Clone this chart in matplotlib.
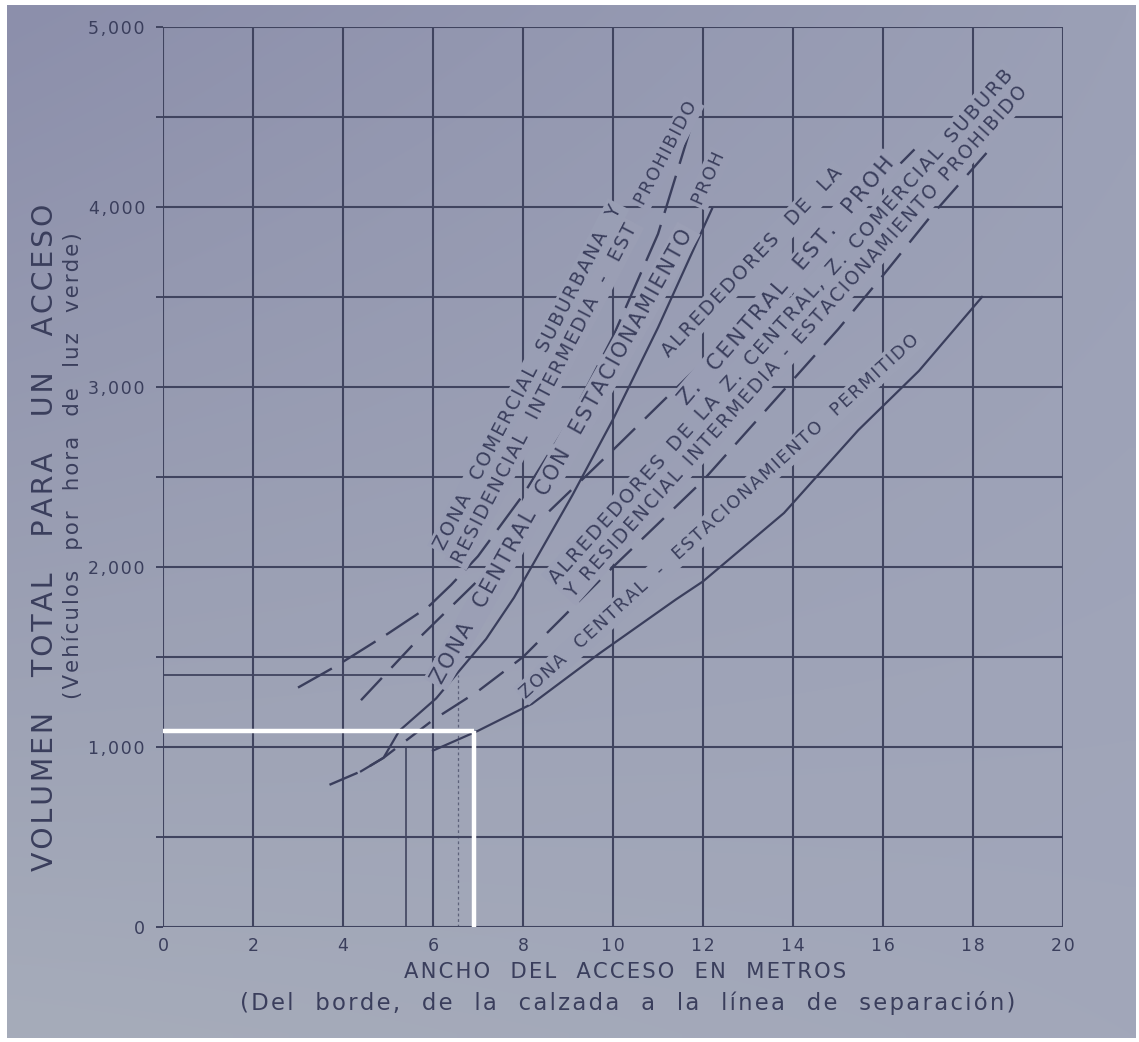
import numpy as np
import matplotlib
matplotlib.use("Agg")
import matplotlib.pyplot as plt

plt.rcParams['font.family'] = ['DejaVu Sans']
plt.rcParams['lines.scale_dashes'] = False

# ---- axis scales -------------------------------------------------------
x_ticks = [0, 2, 4, 6, 8, 10, 12, 14, 16, 18, 20]
y_grid = [0, 500, 1000, 1500, 2000, 2500, 3000, 3500, 4000, 4500, 5000]
y_ticks = [0, 1000, 2000, 3000, 4000, 5000]
y_tick_labels = ["0", "1,000", "2,000", "3,000", "4,000", "5,000"]

# ---- curves: access width (m) vs. vehicles per hour of green ----------
com_sub_x = [3.0, 3.85, 5.0, 5.9, 6.4, 7.0, 8.0, 9.0, 10.0, 11.0, 11.8]
com_sub_y = [1330, 1450, 1630, 1780, 1900, 2060, 2400, 2800, 3280, 3850, 4500]

cen_prohib_x = [4.4, 4.9, 5.25, 6.07, 7.18, 7.8, 9.1, 10.0, 11.0, 12.2]
cen_prohib_y = [865, 940, 1090, 1270, 1600, 1830, 2400, 2820, 3330, 3990]

alr_cen_x = [4.4, 5.75, 8.0, 10.0, 12.0, 14.0, 16.7]
alr_cen_y = [1260, 1620, 2170, 2650, 3140, 3640, 4320]

alr_res_x = [3.7, 4.4, 4.9, 6.0, 7.0, 8.0, 9.0, 10.0, 11.0, 12.0, 13.0, 14.0,
             15.0, 16.0, 17.0, 18.3]
alr_res_y = [790, 865, 940, 1150, 1310, 1500, 1750, 2000, 2240, 2480, 2760,
             3040, 3320, 3620, 3930, 4300]

cen_perm_x = [6.0, 7.0, 8.2, 9.7, 11.4, 12.0, 13.8, 15.45, 16.8, 18.2]
cen_perm_y = [980, 1090, 1240, 1520, 1820, 1920, 2300, 2760, 3090, 3500]

# reading drawn on the chart for a 6.9 m access
read_x = 6.9
read_y = 1090

# construction lines left on the sheet
guide_h_y = 1400
guide_h_x_end = 6.05
guide_v1_x = 5.4
guide_v1_y_end = 1000
guide_v2_x = 6.55
guide_v2_y_end = 1400

W, H = 1139, 1042
INK = '#3a3e5c'
GRID = '#40445f'
HAIR = '\u200a'

fig = plt.figure(figsize=(W / 100, H / 100), dpi=100)

# paper tone (photographed sheet, slightly uneven light)
corner_tl = np.array([0x8c, 0x8f, 0xab]) / 255
corner_tr = np.array([0x9b, 0xa0, 0xb6]) / 255
corner_bl = np.array([0xa6, 0xac, 0xba]) / 255
corner_br = np.array([0xa2, 0xa7, 0xba]) / 255


def paper_at(fx, fy):
    """Paper colour at figure fraction (fx, fy), fy measured from bottom."""
    top = corner_tl * (1 - fx) + corner_tr * fx
    bot = corner_bl * (1 - fx) + corner_br * fx
    return tuple(np.clip(bot * (1 - fy) + top * fy, 0, 1))


gx = np.linspace(0, 1, 64)
gy = np.linspace(1, 0, 64)
img = np.array([[paper_at(a, b) for a in gx] for b in gy])
bg = fig.add_axes([0, 0, 1, 1], zorder=-10)
bg.imshow(img, aspect='auto', extent=[0, 1, 0, 1], interpolation='bilinear')
bg.set_xlim(0, 1)
bg.set_ylim(0, 1)
bg.axis('off')
# white margin of the scanned sheet
for rect in ([0, 0, 7 / W, 1], [0, 1 - 5 / H, 1, 5 / H], [0, 0, 1, 4 / H],
             [1 - 3 / W, 0, 3 / W, 1]):
    bg.add_patch(plt.Rectangle(rect[:2], rect[2], rect[3], color='white', lw=0))

ax = fig.add_axes([163 / W, 1 - 927 / H, 900 / W, 900 / H])
ax.set_facecolor('none')
ax.set_xlim(0, 20)
ax.set_ylim(0, 5000)
for s in ax.spines.values():
    s.set_visible(False)

for xv in x_ticks:
    ax.axvline(xv, color=GRID, lw=1.5, zorder=1)
for yv in y_grid:
    ax.axhline(yv, color=GRID, lw=1.5, zorder=1)

renderer = fig.canvas.get_renderer()


def spaced(s, gap=HAIR, word=2):
    """Lettering with letter spacing and wide word gaps."""
    return (' ' * word).join(gap.join(w) for w in s.split(' '))


ax.set_xticks(x_ticks)
ax.set_xticklabels([HAIR.join(str(v)) for v in x_ticks])
ax.set_yticks(y_ticks)
ax.set_yticklabels([HAIR.join(v) for v in y_tick_labels])
ax.set_yticks(y_grid, minor=True)
ax.tick_params(axis='x', length=0, pad=7, labelsize=12.5, labelcolor=INK)
ax.tick_params(axis='y', which='both', length=5, width=1.4, color=GRID,
               direction='out', pad=8, labelsize=12.5, labelcolor=INK)

# construction lines
ax.plot([0, guide_h_x_end], [guide_h_y, guide_h_y], color=GRID, lw=1.3, zorder=1)
ax.plot([guide_v1_x, guide_v1_x], [0, guide_v1_y_end], color=GRID, lw=1.2, zorder=1)
ax.plot([guide_v2_x, guide_v2_x], [0, guide_v2_y_end], color=GRID, lw=0.9,
        ls=(0, (2, 2)), alpha=0.7, zorder=1)

# curves
ax.plot(com_sub_x, com_sub_y, color=INK, lw=1.7, ls=(0, (28, 9)), zorder=3)
ax.plot(cen_prohib_x, cen_prohib_y, color=INK, lw=1.6, zorder=3)
ax.plot(alr_cen_x, alr_cen_y, color=INK, lw=1.7, ls=(0, (22, 10)), zorder=3)
ax.plot(alr_res_x, alr_res_y, color=INK, lw=1.7, ls=(0, (22, 10)), zorder=3)
ax.plot(cen_perm_x, cen_perm_y, color=INK, lw=1.6, zorder=3)

# reading lines in white
ax.plot([0, read_x], [read_y, read_y], color='white', lw=3.2, zorder=6,
        solid_capstyle='butt')
ax.plot([read_x, read_x], [read_y, 0], color='white', lw=3.2, zorder=6,
        solid_capstyle='butt')


def fitted_size(text, length):
    probe = fig.text(0, 0, text, fontsize=10)
    w = probe.get_window_extent(renderer).width
    probe.remove()
    return 10 * length / w


def curve_label(text, p0, p1, word=3):
    d0 = ax.transData.transform(p0)
    d1 = ax.transData.transform(p1)
    ang = np.degrees(np.arctan2(d1[1] - d0[1], d1[0] - d0[0]))
    s = spaced(text, word=word)
    size = fitted_size(s, np.hypot(*(d1 - d0)))
    xm, ym = (p0[0] + p1[0]) / 2, (p0[1] + p1[1]) / 2
    fm = fig.transFigure.inverted().transform(ax.transData.transform((xm, ym)))
    ax.text(xm, ym, s, rotation=ang, rotation_mode='anchor',
            ha='center', va='center', fontsize=size, color=INK, zorder=5,
            bbox=dict(boxstyle='square,pad=0.15', fc=paper_at(*fm), ec='none'))


def sheet_text(text, x0, y0, x1, y1, gap=HAIR, word=3):
    """Text fitted between two points given in pixels from the top-left."""
    s = spaced(text, gap, word)
    length = np.hypot(x1 - x0, y1 - y0)
    ang = np.degrees(np.arctan2(y0 - y1, x1 - x0))
    fig.text((x0 + x1) / 2 / W, 1 - (y0 + y1) / 2 / H, s, rotation=ang,
             rotation_mode='anchor', ha='center', va='center',
             fontsize=fitted_size(s, length), color=INK)


curve_label("ZONA COMERCIAL SUBURBANA Y", (6.15, 2105), (10.09, 4000))
curve_label("PROHIBIDO", (10.6, 4017), (11.78, 4578))
curve_label("RESIDENCIAL INTERMEDIA - EST", (6.53, 2028), (10.42, 3900))
curve_label("ZONA CENTRAL CON ESTACIONAMIENTO", (6.09, 1367), (11.64, 3861))
curve_label("PROH", (11.87, 4017), (12.38, 4300))
curve_label("ALREDEDORES DE LA", (11.16, 3178), (15.04, 4206))
curve_label("Z. CENTRAL EST. PROH", (11.56, 2922), (16.16, 4261))
curve_label("ALREDEDORES DE LA Z. CENTRAL, Z. COMERCIAL SUBURB",
            (8.67, 1928), (18.8, 4744), word=2)
curve_label("Y RESIDENCIAL INTERMEDIA - ESTACIONAMIENTO PROHIBIDO",
            (9.04, 1850), (19.1, 4650), word=2)
curve_label("ZONA CENTRAL - ESTACIONAMIENTO PERMITIDO", (8.0, 1289), (16.76, 3278))

# axis titles
sheet_text("VOLUMEN TOTAL PARA UN ACCESO", 45, 870, 45, 205, word=4)
sheet_text("(Vehículos por hora de luz verde)", 73, 700, 73, 232, word=3)
sheet_text("ANCHO DEL ACCESO EN METROS", 405, 972, 845, 972, word=3)
sheet_text("(Del borde, de la calzada a la línea de separación)",
           240, 1003, 1015, 1003, word=3)

fig.savefig("out.png", dpi=100)
